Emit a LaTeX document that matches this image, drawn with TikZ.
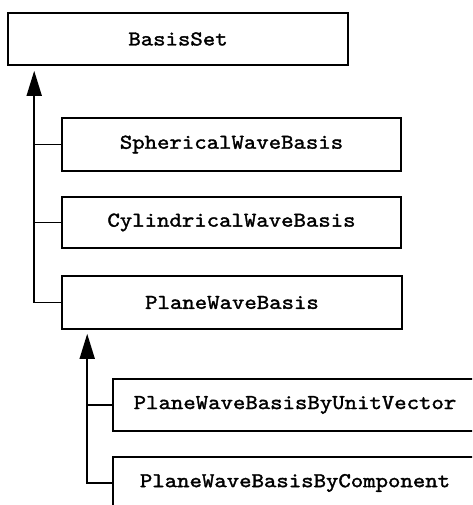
\documentclass[tikz,border=0pt]{standalone}
\usepackage{fontspec}
\setmonofont[FakeStretch=1.12,FakeBold=1.6]{lmmono10-regular.otf}
\usetikzlibrary{arrows.meta}
\begin{document}
\begin{tikzpicture}[x=1pt,y=-1pt,
  cls/.style={draw=black,line width=1.6pt,fill=white,inner sep=0pt,
    font=\fontsize{21.1}{24}\selectfont\ttfamily},
  inh/.style={line width=1.6pt,-{Triangle[length=25pt,width=15pt]}},
  lnk/.style={line width=1.6pt}]
\useasboundingbox (0,0) rectangle (472,505);
\clip (0,0) rectangle (472,505);
\node[cls,minimum width=340pt,minimum height=52pt] (basis) at (178,39) {BasisSet};
\node[cls,minimum width=339pt,minimum height=53pt] (sph) at (231.5,144.5) {SphericalWaveBasis};
\node[cls,minimum width=339pt,minimum height=51pt] (cyl) at (231.5,222.5) {CylindricalWaveBasis};
\node[cls,minimum width=340pt,minimum height=53pt] (plane) at (232,302.5) {PlaneWaveBasis};
\node[cls,minimum width=364pt,minimum height=52pt] (unit) at (295,405) {PlaneWaveBasisByUnitVector};
\node[cls,minimum width=364pt,minimum height=52pt] (comp) at (295,483) {PlaneWaveBasisByComponent};
\draw[inh,shorten >=5pt] (plane.west) -| ([xshift=27pt]basis.south west);
\draw[lnk] (sph.west) -- ++(-27,0);
\draw[lnk] (cyl.west) -- ++(-27,0);
\draw[inh,shorten >=4pt] (comp.west) -| ([xshift=26pt]plane.south west);
\draw[lnk] (unit.west) -- ++(-25,0);
\end{tikzpicture}
\end{document}
